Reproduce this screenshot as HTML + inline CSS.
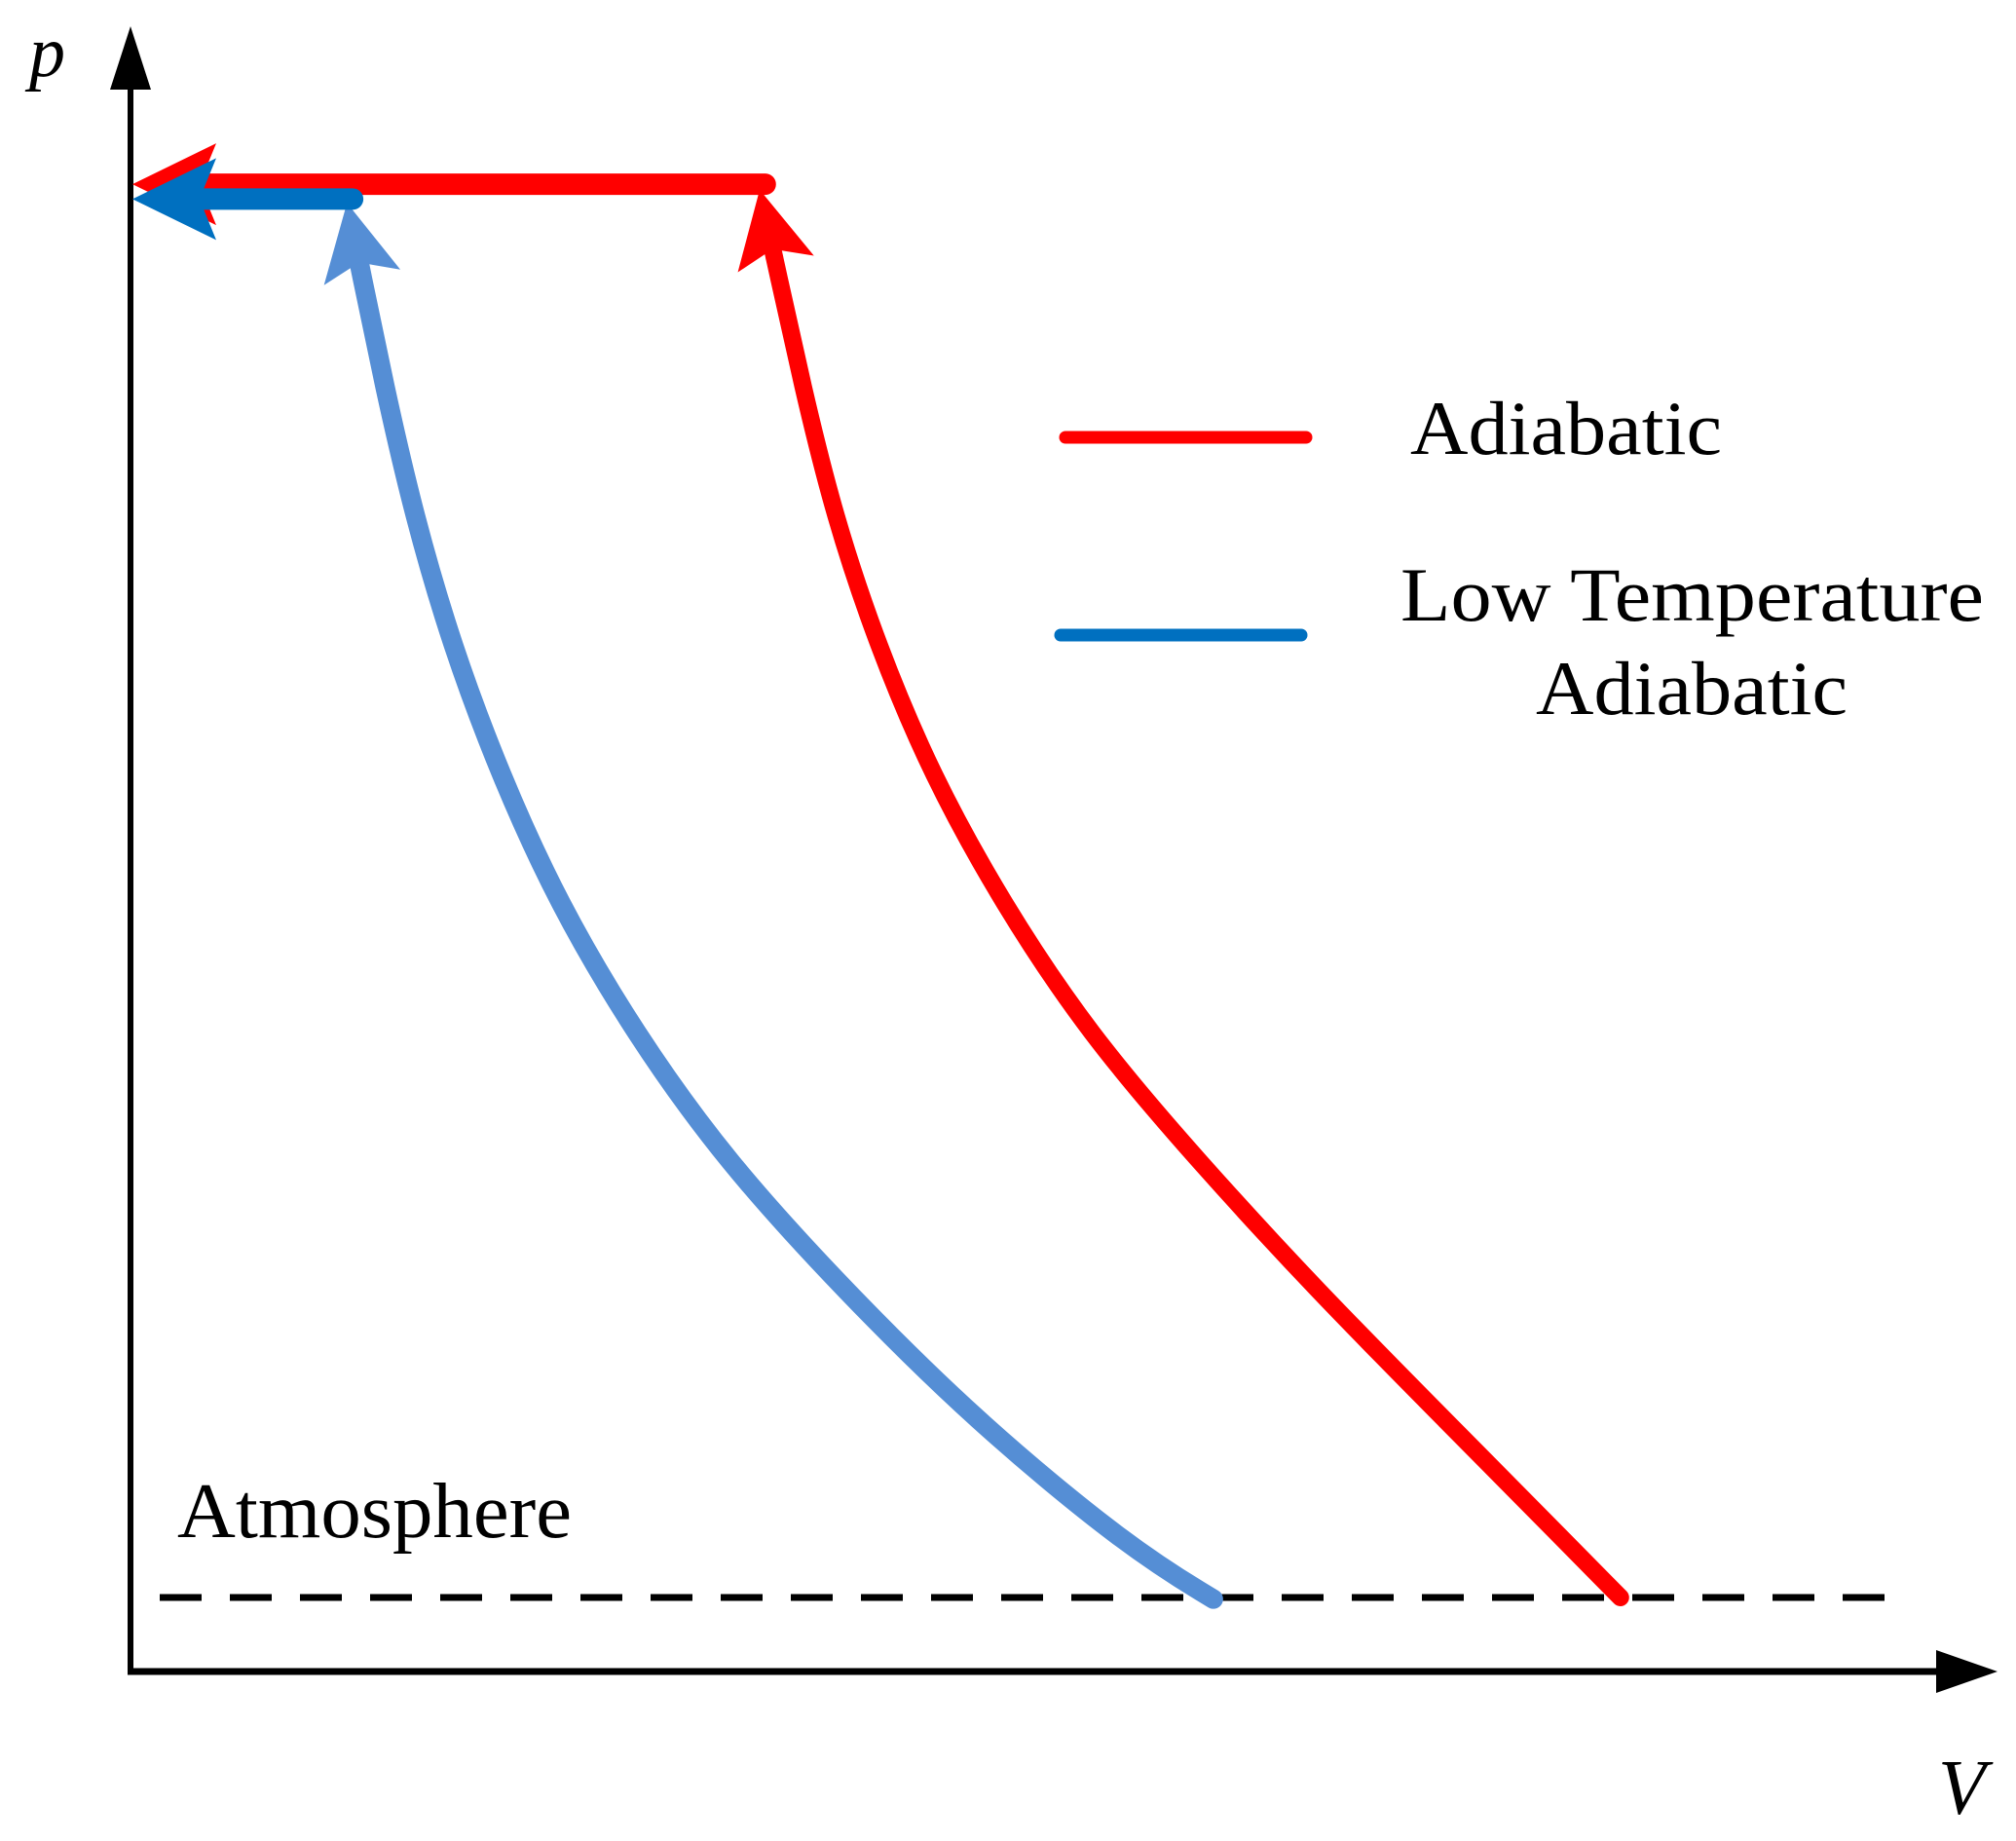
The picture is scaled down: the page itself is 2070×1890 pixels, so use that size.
<!DOCTYPE html>
<html><head><meta charset="utf-8"><style>
html,body{margin:0;padding:0;background:#fff;}
svg{display:block;}
text{font-family:"Liberation Serif",serif;fill:#000;}
</style></head><body>
<svg id="chart" width="2070" height="1890" viewBox="0 0 2070 1890" xmlns="http://www.w3.org/2000/svg">
<g id="axes"></g>
<g id="marks"></g>
<g id="legend"></g>
</svg>
<script>
// Data (V and p in relative units 0-100)
const redV = [34.5, 36.0, 37.7, 40.0, 42.9, 46.7, 51.3, 57.2, 63.6, 70.4, 77.2, 79.8];
const redP = [85.9, 78.1, 70.2, 62.4, 54.5, 46.7, 38.8, 31.0, 23.1, 15.3, 7.5, 4.5];
const blueV = [12.2, 13.6, 15.2, 17.2, 19.8, 22.9, 27.0, 31.9, 38.3, 45.2, 53.5, 58.0];
const blueP = [85.9, 78.1, 70.2, 62.4, 54.5, 46.7, 38.8, 31.0, 23.1, 15.3, 7.5, 4.4];
const redIsobarP = [90.4];
const redIsobarEndV = [34.0];
const blueIsobarP = [89.5];
const blueIsobarEndV = [11.9];
const atmosphereP = [4.5];

const NS = "http://www.w3.org/2000/svg";
const x0 = 134, x1 = 2051, y0 = 1716, y1 = 27;
function xScale(v){ return x0 + v/100*(x1-x0); }
function yScale(p){ return y0 - p/100*(y0-y1); }
function mk(tag, attrs, parent){ const e=document.createElementNS(NS,tag); for(const k in attrs) e.setAttribute(k,attrs[k]); parent.appendChild(e); return e; }

const axes = document.getElementById('axes');
const marks = document.getElementById('marks');
const legend = document.getElementById('legend');

let e;
e = mk('line',{x1:x0,y1:y0,x2:x0,y2:85,stroke:'#000','stroke-width':6},axes);


e = mk('polygon',{points:`${x0},${y1} ${x0-21},92 ${x0+21},92`,fill:'#000'},axes);


e = mk('line',{x1:x0-3,y1:y0,x2:1995,y2:y0,stroke:'#000','stroke-width':7},axes);


e = mk('polygon',{points:`${x1},${y0} 1988,${y0-22} 1988,${y0+22}`,fill:'#000'},axes);


e = mk('text',{x:30,y:78,'font-size':74,'font-style':'italic'},axes); e.textContent='p';


e = mk('text',{x:1990,y:1862,'font-size':80,'font-style':'italic'},axes); e.textContent='V';



const ay = yScale(atmosphereP[0]);
e = mk('line',{x1:164,y1:ay,x2:1956,y2:ay,stroke:'#000','stroke-width':7,'stroke-dasharray':'43 29'},marks);


e = mk('text',{x:182,y:1578,'font-size':80,textLength:405,lengthAdjust:'spacingAndGlyphs'},marks); e.textContent='Atmosphere';



// uniform cubic B-spline through clamped control points (smooth)
function smoothPath(xs, ys){
  const raw = xs.map((v,i)=>[xScale(v), yScale(ys[i])]);
  const P = [raw[0], raw[0], ...raw, raw[raw.length-1], raw[raw.length-1]];
  let d = '';
  for(let i=0;i<P.length-3;i++){
    const a=P[i], b=P[i+1], c=P[i+2], f=P[i+3];
    const b0=[(a[0]+4*b[0]+c[0])/6,(a[1]+4*b[1]+c[1])/6];
    const b1=[(2*b[0]+c[0])/3,(2*b[1]+c[1])/3];
    const b2=[(b[0]+2*c[0])/3,(b[1]+2*c[1])/3];
    const b3=[(b[0]+4*c[0]+f[0])/6,(b[1]+4*c[1]+f[1])/6];
    if(i===0) d += `M${b0[0]},${b0[1]}`;
    d += ` C${b1[0]},${b1[1]} ${b2[0]},${b2[1]} ${b3[0]},${b3[1]}`;
  }
  return d;
}
function arrowHead(tx, ty, dx, dy, len, half, color, parent){
  const L=Math.hypot(dx,dy); const ux=dx/L, uy=dy/L; const nx=-uy, ny=ux;
  const bx=tx-ux*len, by=ty-uy*len;
  const nxp=tx-ux*len*0.8, nyp=ty-uy*len*0.8;
  return mk('polygon',{points:`${tx},${ty} ${bx+nx*half},${by+ny*half} ${nxp},${nyp} ${bx-nx*half},${by-ny*half}`,fill:color},parent);
}
function curveArrow(xs, ys, color, ext, w){
  const ax=xScale(xs[0]), ay2=yScale(ys[0]);
  const dx=ax-xScale(xs[1]), dy=ay2-yScale(ys[1]);
  const L=Math.hypot(dx,dy);
  const tx=ax+dx/L*ext, ty=ay2+dy/L*ext;
  mk('line',{x1:ax,y1:ay2,x2:ax+dx/L*(ext-40),y2:ay2+dy/L*(ext-40),stroke:color,'stroke-width':w},marks);
  return arrowHead(tx, ty, dx, dy, 78, 40, color, marks);
}

// Red
const ry = yScale(redIsobarP[0]);
e = mk('line',{x1:xScale(redIsobarEndV[0]),y1:ry,x2:165,y2:ry,stroke:'#ff0000','stroke-width':22,'stroke-linecap':'round'},marks);


e = arrowHead(x0+2, ry, -1, 0, 86, 42, '#ff0000', marks);


e = mk('path',{d:smoothPath(redV,redP),fill:'none',stroke:'#ff0000','stroke-width':18,'stroke-linecap':'round'},marks);


e = curveArrow(redV, redP, '#ff0000', 72, 18);



// Blue
const by = yScale(blueIsobarP[0]);
e = mk('path',{d:smoothPath(blueV,blueP),fill:'none',stroke:'#558ed5','stroke-width':20,'stroke-linecap':'round'},marks);


e = curveArrow(blueV, blueP, '#558ed5', 58, 20);


e = mk('line',{x1:xScale(blueIsobarEndV[0]),y1:by,x2:165,y2:by,stroke:'#0070c0','stroke-width':22,'stroke-linecap':'round'},marks);


e = arrowHead(x0+2, by, -1, 0, 86, 42, '#0070c0', marks);



// Legend
e = mk('line',{x1:1094,y1:449,x2:1341,y2:449,stroke:'#ff0000','stroke-width':13,'stroke-linecap':'round'},legend);


e = mk('text',{x:1448,y:466,'font-size':78,textLength:320,lengthAdjust:'spacingAndGlyphs'},legend); e.textContent='Adiabatic';


e = mk('line',{x1:1089,y1:652,x2:1336,y2:652,stroke:'#0070c0','stroke-width':13,'stroke-linecap':'round'},legend);


e = mk('text',{x:1438,y:637,'font-size':78,textLength:599,lengthAdjust:'spacingAndGlyphs'},legend); e.textContent='Low Temperature';


e = mk('text',{x:1577,y:733,'font-size':78,textLength:320,lengthAdjust:'spacingAndGlyphs'},legend); e.textContent='Adiabatic';


</script>
</body></html>
